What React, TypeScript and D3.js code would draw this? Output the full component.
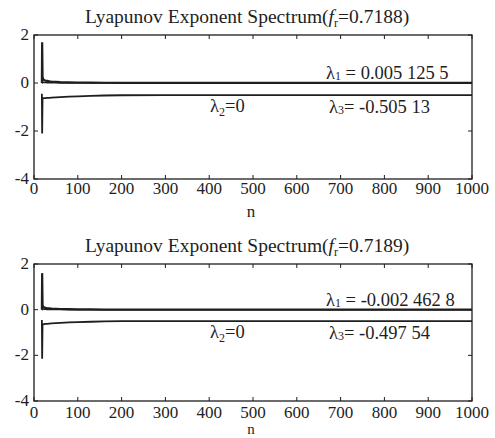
import React from "react";
import * as d3 from "d3";

const width = 495;
const height = 438;

// x ticks and y ticks
const xTicks = [0, 100, 200, 300, 400, 500, 600, 700, 800, 900, 1000];
const yTicks = [2, 0, -2, -4];

const nSteps = [18, 18.6, 19.5, 21, 23, 26, 30, 35, 40, 50, 60, 80, 100, 130, 160, 200, 300, 500, 700, 1000];

// f_r = 0.7188
const l1Top = [0.0, 1.7, 0.25, 0.15, 0.12, 0.1, 0.09, 0.07, 0.06, 0.05, 0.04, 0.03, 0.02, 0.015, 0.01, 0.008, 0.006, 0.005, 0.005, 0.005];
const l2Top = [0.0, 0.0, 0.05, 0.03, 0.02, 0.02, 0.015, 0.01, 0.01, 0.01, 0.005, 0.005, 0.0, 0.0, 0.0, 0.0, 0.0, 0.0, 0.0, 0.0];
const l3Top = [-0.45, -2.1, -0.62, -0.64, -0.63, -0.63, -0.62, -0.62, -0.61, -0.6, -0.59, -0.57, -0.56, -0.54, -0.52, -0.51, -0.505, -0.505, -0.505, -0.505];

// f_r = 0.7189
const l1Bot = [0.0, 1.6, 0.2, 0.12, 0.1, 0.08, 0.07, 0.06, 0.05, 0.04, 0.03, 0.02, 0.015, 0.01, 0.005, 0.0, -0.002, -0.0025, -0.0025, -0.0025];
const l2Bot = [0.0, 0.0, 0.04, 0.03, 0.02, 0.015, 0.01, 0.01, 0.01, 0.005, 0.005, 0.0, 0.0, 0.0, 0.0, 0.0, 0.0, 0.0, 0.0, 0.0];
const l3Bot = [-0.45, -2.15, -0.64, -0.64, -0.63, -0.62, -0.62, -0.61, -0.6, -0.59, -0.58, -0.56, -0.55, -0.53, -0.51, -0.5, -0.498, -0.4975, -0.4975, -0.4975];

const font = "Liberation Serif, Times New Roman, serif";
const ink = "#1e1e1e";

type PanelProps = {
  top: number;
  bottom: number;
  fr: string;
  l1: number[];
  l2: number[];
  l3: number[];
  l1Text: string;
  l3Text: string;
  labelGap: number;
  nGap: number;
  nSize: number;
};

const left = 34;
const right = 472;

const Panel = ({ top, bottom, fr, l1, l2, l3, l1Text, l3Text, labelGap, nGap, nSize }: PanelProps) => {
  const x = d3.scaleLinear().domain([0, 1000]).range([left, right]);
  const y = d3.scaleLinear().domain([-4, 2]).range([bottom, top]);
  const line = d3
    .line<number>()
    .x((_, i) => x(nSteps[i]))
    .y((d) => y(d));
  const tick = 4;

  return (
    <g style={{ fontFamily: font }} fill={ink}>
      <text x={247} y={top - 12} fontSize={19.5} textAnchor="middle">
        Lyapunov Exponent Spectrum(
        <tspan fontStyle="italic">f</tspan>
        <tspan fontSize={12} dy={4}>r</tspan>
        <tspan dy={-4}>=0.{fr})</tspan>
      </text>

      {xTicks.map((t) => (
        <g key={"x" + t}>
          <line x1={x(t)} x2={x(t)} y1={bottom} y2={bottom - tick} stroke={ink} />
          <line x1={x(t)} x2={x(t)} y1={top} y2={top + tick} stroke={ink} />
          <text x={x(t)} y={bottom + labelGap} fontSize={17} textAnchor="middle">
            {t}
          </text>
        </g>
      ))}
      {yTicks.map((t) => (
        <g key={"y" + t}>
          <line x1={left} x2={left + tick} y1={y(t)} y2={y(t)} stroke={ink} />
          <line x1={right} x2={right - tick} y1={y(t)} y2={y(t)} stroke={ink} />
          <text x={29} y={y(t) + 5} fontSize={17} textAnchor="end">
            {t}
          </text>
        </g>
      ))}
      <text x={251} y={bottom + nGap} fontSize={nSize} textAnchor="middle">
        n
      </text>

      <path d={line(l2) ?? ""} fill="none" stroke={ink} strokeWidth={1.5} />
      <path d={line(l1) ?? ""} fill="none" stroke={ink} strokeWidth={2.2} />
      <path d={line(l3) ?? ""} fill="none" stroke={ink} strokeWidth={1.8} />

      <rect
        x={left}
        y={top}
        width={right - left}
        height={bottom - top}
        fill="none"
        stroke={ink}
        strokeWidth={1.3}
      />

      <text x={326} y={y(0) - 4} fontSize={18.5}>
        λ<tspan fontSize={12} dy={1}>1</tspan>
        <tspan dy={-1}> = {l1Text}</tspan>
      </text>
      <text x={210} y={y(-1) + 5} fontSize={18.5}>
        λ<tspan fontSize={12} dy={4}>2</tspan>
        <tspan dy={-4}>=0</tspan>
      </text>
      <text x={329} y={y(-1) + 6} fontSize={18.5}>
        λ<tspan fontSize={12} dy={1}>3</tspan>
        <tspan dy={-1}>= {l3Text}</tspan>
      </text>
    </g>
  );
};

const App = () => {
  return (
    <svg width={width} height={height} style={{ position: "absolute", left: 0, top: 0, background: "#fff" }}>
      <rect width={width} height={height} fill="#fff" />
      <Panel top={35} bottom={179} fr="7188" l1={l1Top} l2={l2Top} l3={l3Top} l1Text="0.005 125 5" l3Text="-0.505 13" labelGap={15} nGap={38} nSize={17} />
      <Panel top={264} bottom={401} fr="7189" l1={l1Bot} l2={l2Bot} l3={l3Bot} l1Text="-0.002 462 8" l3Text="-0.497 54" labelGap={17} nGap={33} nSize={15} />
    </svg>
  );
};

export default App;
